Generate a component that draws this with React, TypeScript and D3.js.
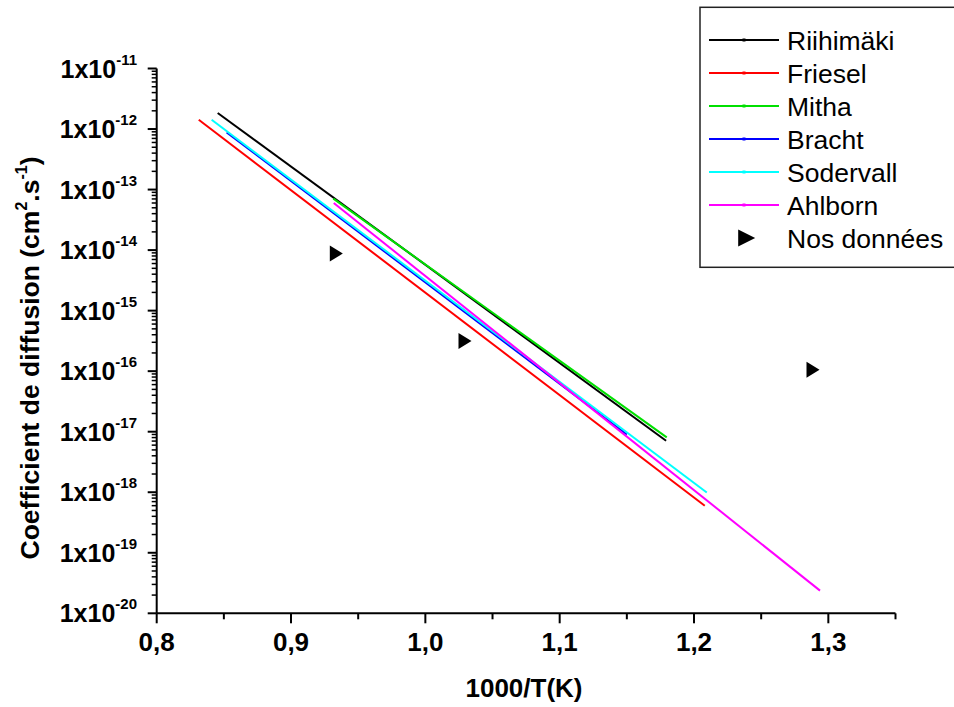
import React from "react";
import * as d3 from "d3";

// Series: endpoints [x (1000/T), D (cm2/s)]
const seriesNames = ["Riihimäki", "Friesel", "Mitha", "Bracht", "Sodervall", "Ahlborn"];
const seriesColors = ["#000000", "#ff0000", "#00e000", "#0000ff", "#00ffff", "#ff00ff"];
const riihimakiX = [0.8454, 1.1792];
const riihimakiY = [1.84e-12, 7.1e-18];
const frieselX = [0.8313, 1.208];
const frieselY = [1.42e-12, 5.97e-19];
const mithaX = [0.9315, 1.1797];
const mithaY = [7.1e-14, 8.05e-18];
const brachtX = [0.8521, 1.15];
const brachtY = [8.8e-13, 9.0e-18];
const sodervallX = [0.8409, 1.2095];
const sodervallY = [1.42e-12, 9.9e-19];
const ahlbornX = [0.9318, 1.2938];
const ahlbornY = [6.0e-14, 2.37e-20];
const nosX = [0.9337, 1.0295, 1.2886];
const nosY = [8.75e-15, 3.15e-16, 1.06e-16];
const xTicks = [0.8, 0.9, 1.0, 1.1, 1.2, 1.3];
const xMinorTicks = [0.85, 0.95, 1.05, 1.15, 1.25, 1.35];
const yDecades = [-20, -19, -18, -17, -16, -15, -14, -13, -12, -11];

export default function App() {
  const x = d3.scaleLinear().domain([0.8, 1.35]).range([156.7, 895.5]);
  const y = d3.scaleLog().domain([1e-20, 1e-11]).range([613.3, 68.5]);
  const allX = [riihimakiX, frieselX, mithaX, brachtX, sodervallX, ahlbornX];
  const allY = [riihimakiY, frieselY, mithaY, brachtY, sodervallY, ahlbornY];
  const line = d3
    .line<[number, number]>()
    .x((d) => x(d[0]))
    .y((d) => y(d[1]));
  const drawOrder = [0, 1, 3, 4, 5, 2];
  const font = "Arial, 'Liberation Sans', sans-serif";
  const minor: number[] = [];
  yDecades.slice(0, -1).forEach((e) => {
    for (let k = 2; k <= 9; k++) minor.push(k * Math.pow(10, e));
  });
  const tri = (cx: number, cy: number, w: number, h: number) =>
    `M${cx - w / 2},${cy - h / 2}L${cx + w / 2},${cy}L${cx - w / 2},${cy + h / 2}Z`;
  const legendRows = [40, 73, 106, 139, 172, 205, 238];
  return (
    <svg width={954} height={707} style={{ position: "absolute", left: 0, top: 0, background: "#fff" }} fontFamily={font}>
      <rect width={954} height={707} fill="#fff" />
      {/* data lines */}
      {drawOrder.map((i) => (
        <path
          key={i}
          d={line(allX[i].map((v, j) => [v, allY[i][j]] as [number, number])) || ""}
          stroke={seriesColors[i]}
          strokeWidth={2}
          fill="none"
        />
      ))}
      {nosX.map((v, i) => (
        <path key={i} d={tri(x(v), y(nosY[i]), 13, 16)} fill="#000" />
      ))}
      {/* axes */}
      <line x1={x(0.8)} x2={x(1.35)} y1={y(1e-20)} y2={y(1e-20)} stroke="#000" strokeWidth={2} />
      <line x1={x(0.8)} x2={x(0.8)} y1={y(1e-20)} y2={y(1e-11)} stroke="#000" strokeWidth={2} />
      {xTicks.map((t) => (
        <g key={t}>
          <line x1={x(t)} x2={x(t)} y1={y(1e-20)} y2={y(1e-20) + 10} stroke="#000" strokeWidth={2} />
          <text x={x(t)} y={651} textAnchor="middle" fontSize={26} fontWeight="bold">
            {t.toFixed(1).replace(".", ",")}
          </text>
        </g>
      ))}
      {xMinorTicks.map((t) => (
        <line key={t} x1={x(t)} x2={x(t)} y1={y(1e-20)} y2={y(1e-20) + 6} stroke="#000" strokeWidth={2} />
      ))}
      {yDecades.map((e) => {
        const yy = y(Math.pow(10, e));
        return (
          <g key={e}>
            <line x1={x(0.8) - 9} x2={x(0.8)} y1={yy} y2={yy} stroke="#000" strokeWidth={2} />
            <text x={137} y={yy + 9} textAnchor="end" fontSize={25} fontWeight="bold">
              1x10
              <tspan fontSize={15} dy={-13}>
                {String(e)}
              </tspan>
            </text>
          </g>
        );
      })}
      {minor.map((m, i) => (
        <line key={i} x1={x(0.8) - 5} x2={x(0.8)} y1={y(m)} y2={y(m)} stroke="#000" strokeWidth={1.5} />
      ))}
      {/* axis titles */}
      <text x={524} y={697} textAnchor="middle" fontSize={26} fontWeight="bold">
        1000/T(K)
      </text>
      <text transform="translate(39,358) rotate(-90)" textAnchor="middle" fontSize={26.5} fontWeight="bold">
        Coefficient de diffusion (cm
        <tspan fontSize={16} dy={-12}>2</tspan>
        <tspan dy={12}>.s</tspan>
        <tspan fontSize={16} dy={-12}>-1</tspan>
        <tspan dy={12}>)</tspan>
      </text>
      {/* legend */}
      <rect x={700} y={7.3} width={270} height={260} fill="#fff" stroke="#222" strokeWidth={1.5} />
      {seriesNames.map((n, i) => (
        <g key={n}>
          <line x1={709} x2={779} y1={legendRows[i]} y2={legendRows[i]} stroke={seriesColors[i]} strokeWidth={2} />
          <rect x={742.5} y={legendRows[i] - 1.5} width={3} height={3} fill={seriesColors[i]} />
          <text x={787} y={legendRows[i] + 9.5} fontSize={26.5}>
            {n}
          </text>
        </g>
      ))}
      <path d={tri(746.7, legendRows[6], 17, 17)} fill="#000" />
      <text x={787} y={legendRows[6] + 9.5} fontSize={26.5}>
        Nos données
      </text>
    </svg>
  );
}
